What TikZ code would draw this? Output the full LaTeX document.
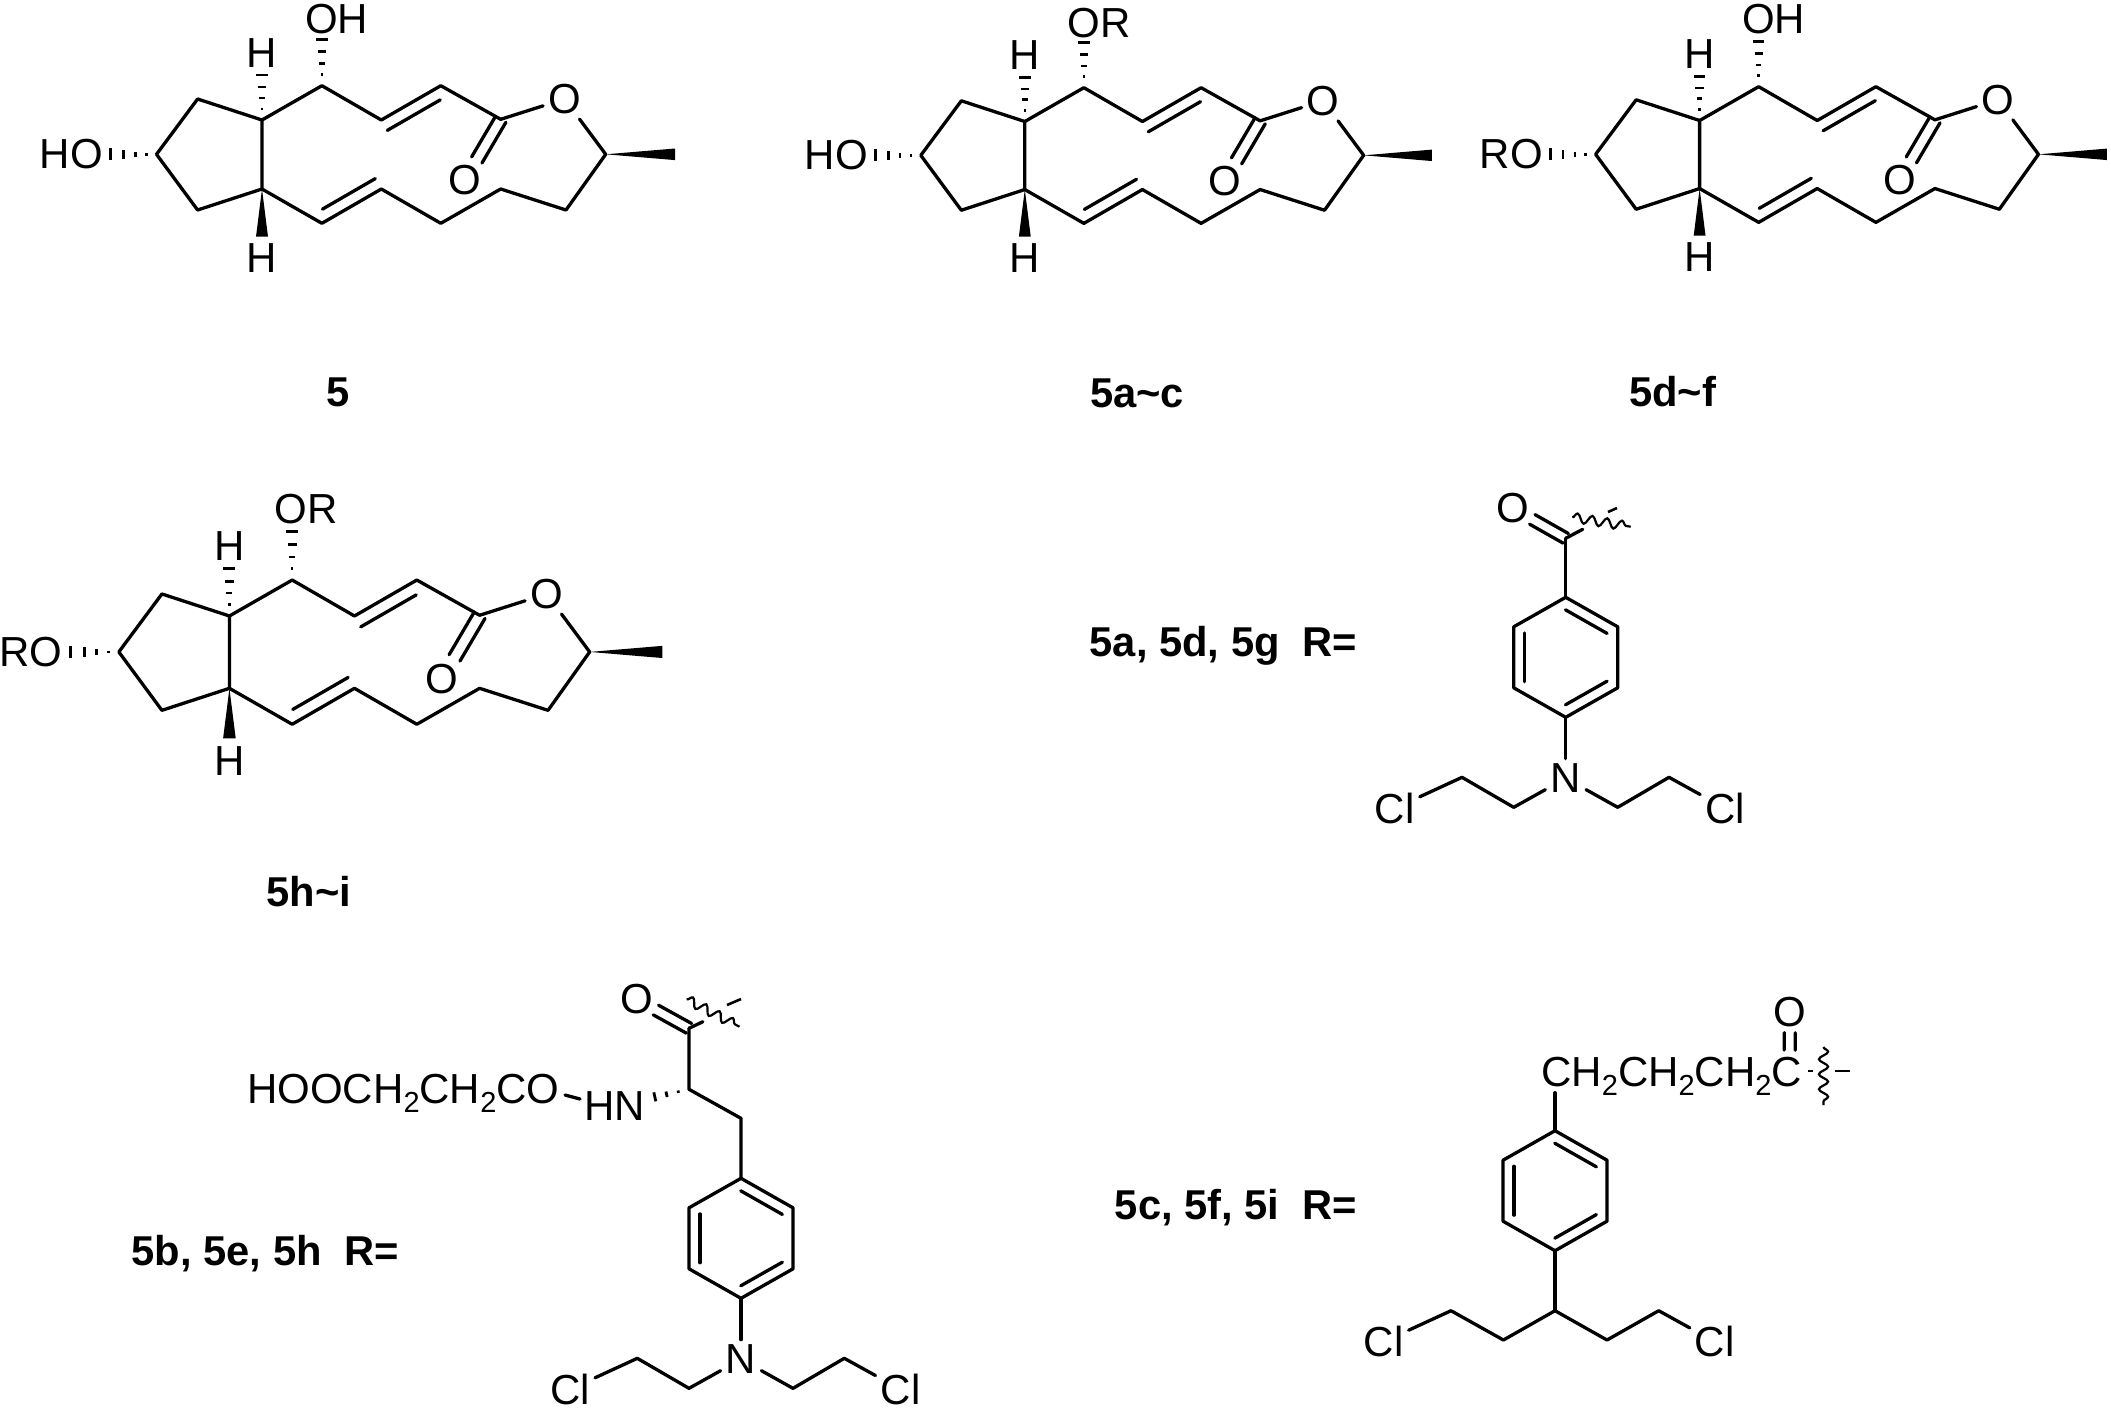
\documentclass[tikz,border=0pt]{standalone}
\usepackage{fontspec}
\setmainfont{Liberation Sans}
\usetikzlibrary{calc,decorations.pathmorphing}
\tikzset{
  bond/.style={line width=3.3pt,line join=round,line cap=round},
  hashline/.style={line width=2.8pt},
  wavy/.style={line width=2.2pt,decorate,decoration={snake,segment length=15pt,amplitude=4.6pt}},
  thinbond/.style={line width=2.6pt},
  atom/.style={inner sep=5pt,font=\fontsize{42}{42}\selectfont},
  chem/.style={inner sep=0pt,font=\fontsize{42}{42}\selectfont},
  cpd/.style={inner sep=0pt,font=\fontsize{41.7}{42}\selectfont\bfseries},
}
\newcommand\subtwo{\raisebox{-9pt}{\fontsize{29}{29}\selectfont 2}}
\newcommand\tld{\textasciitilde}
% hashed bond: #1 atom, #2 direction target, #3 list distance/half-width
\newcommand\hashb[3]{\foreach \hd/\hw in {#3}{%
  \draw[hashline] ($(#1)!\hd pt!(#2)!\hw pt!90:(#2)$) -- ($(#1)!\hd pt!(#2)!\hw pt!-90:(#2)$);}}
% solid wedge: #1 tip, #2 centre of base, #3 half width
\newcommand\wedgeb[3]{\fill (#1) -- ($(#2)!#3!90:(#1)$) -- ($(#2)!#3!-90:(#1)$) -- cycle;}
% inner line of a double bond: #1 a, #2 b, #3 offset, #4 angle, #5 ta, #6 tb
\newcommand\innerb[6]{\draw[bond] ($(#1)!#5!(#2)!#3!#4:(#2)$) -- ($(#2)!#6!(#1)!#3!-#4:(#1)$);}
% straddling double bond: #1 a, #2 b, #3 t start, #4 t end, #5 half spacing
\newcommand\dblb[5]{%
  \draw[bond] ($(#1)!#3!(#2)!#5!90:(#2)$) -- ($(#1)!#4!(#2)!#5!90:(#2)$);
  \draw[bond] ($(#1)!#3!(#2)!#5!-90:(#2)$) -- ($(#1)!#4!(#2)!#5!-90:(#2)$);}
% macrocycle: #1 prefix, #2 shift, #3 scale, #4 top label, #5 top label y, #6 left label
\newcommand\macrocycle[6]{%
\begin{scope}[shift={#2},scale=#3]
  \coordinate (#1a) at (156.5,154.3);
  \coordinate (#1b) at (197.6,99);
  \coordinate (#1c) at (262,120);
  \coordinate (#1d) at (262,189);
  \coordinate (#1e) at (197.6,210);
  \coordinate (#1f) at (321.9,85.7);
  \coordinate (#1g) at (381.3,120);
  \coordinate (#1h) at (440.8,85.7);
  \coordinate (#1i) at (500.7,119.3);
  \coordinate (#1j) at (605.7,154.3);
  \coordinate (#1k) at (566,210);
  \coordinate (#1l) at (500.7,189);
  \coordinate (#1m) at (440.8,223.3);
  \coordinate (#1n) at (381.3,189);
  \coordinate (#1o) at (321.9,223.3);
  \coordinate (#1me) at (675,154.3);
  \coordinate (#1hb) at (262,236.7);
  \coordinate (#1ot) at (321.9,20);
  \node[atom] (#1O) at (564.6,99) {O};
  \node[atom] (#1Oc) at (465,180) {O};
  \node[chem] (#1Ht) at (262,53) {H};
  \node[chem] (#1Hb) at (262,258.5) {H};
  \node[chem,anchor=west] (#1top) at (305,#5) {#4};
  \node[chem,anchor=east] (#1left) at (103,154.3) {#6};
  \draw[bond] (#1a) -- (#1b) -- (#1c) -- (#1d) -- (#1e) -- (#1a);
  \draw[bond] (#1c) -- (#1f) -- (#1g) -- (#1h) -- (#1i) -- (#1O);
  \draw[bond] (#1O) -- (#1j) -- (#1k) -- (#1l) -- (#1m) -- (#1n) -- (#1o) -- (#1d);
  \innerb{#1g}{#1h}{12pt}{-90}{0}{.11}
  \innerb{#1n}{#1o}{12pt}{-90}{0}{.11}
  \dblb{#1i}{#1Oc}{0}{.67}{6pt}
  \wedgeb{#1j}{#1me}{5.8pt}
  \wedgeb{#1d}{#1hb}{6pt}
  \hashb{#1a}{#1left}{10/1.2,21/2.8,33/4.4,46/6}
  \hashb{#1c}{#1Ht}{11/1.2,22/2.8,33/4.2,45/5.8}
  \hashb{#1f}{#1ot}{11/1.2,22/2.8,34/4.2,46/5.8}
\end{scope}}
% para-substituted ring: #1 prefix, #2 centre x, #3 y of top atom
\newcommand\benz[3]{%
\begin{scope}[shift={(#2,#3)}]
  \coordinate (#1t) at (0,0);
  \coordinate (#1ur) at (52,29.5);
  \coordinate (#1lr) at (52,90.5);
  \coordinate (#1b) at (0,120);
  \coordinate (#1ll) at (-52,90.5);
  \coordinate (#1ul) at (-52,29.5);
  \draw[bond] (#1t) -- (#1ur) -- (#1lr) -- (#1b) -- (#1ll) -- (#1ul) -- cycle;
  \innerb{#1t}{#1ur}{11pt}{-90}{.1}{.1}
  \innerb{#1ul}{#1ll}{11pt}{90}{.1}{.1}
  \innerb{#1b}{#1lr}{11pt}{90}{.1}{.1}
\end{scope}}
% nitrogen mustard: #1 prefix, #2 ring-bottom coordinate
\newcommand\mustard[2]{%
\begin{scope}[shift={(#2)}]
  \node[atom] (#1N) at (0,61) {N};
  \coordinate (#1l1) at (-52,90);
  \coordinate (#1l2) at (-103.7,60);
  \node[atom] (#1Cll) at (-171,91) {Cl};
  \coordinate (#1r1) at (52,90);
  \coordinate (#1r2) at (103.3,60);
  \node[atom] (#1Clr) at (159.5,91) {Cl};
  \draw[bond] (#2) -- (#1N);
  \draw[bond] (#1N) -- (#1l1) -- (#1l2) -- (#1Cll);
  \draw[bond] (#1N) -- (#1r1) -- (#1r2) -- (#1Clr);
\end{scope}}
\begin{document}
\begin{tikzpicture}[x=1pt,y=-1pt]
\useasboundingbox (0,0) rectangle (2111,1409);
% macrocycles
\macrocycle{ma-}{(0,0)}{1}{OH}{19}{HO}
\macrocycle{mb-}{(766.5,3.2)}{.986}{OR}{20.4}{HO}
\macrocycle{mc-}{(1441.3,2.2)}{.986}{OH}{17.3}{RO}
\macrocycle{md-}{(-45.2,490.2)}{1.048}{OR}{18.2}{RO}
\node[cpd] (la) at (338,392) {5};
\node[cpd] (lb) at (1137,393) {5a\tld c};
\node[cpd] (lc) at (1672.5,392) {5d\tld f};
\node[cpd] (ld) at (309,892) {5h\tld i};
\node[cpd] (le) at (1223.5,646) {5a, 5d, 5g\hspace{.556em}R=};
\node[cpd] (lf) at (265.5,1254) {5b, 5e, 5h\hspace{.556em}R=};
\node[cpd] (lg) at (1236,1208) {5c, 5f, 5i\hspace{.556em}R=};
% R group 1
\benz{ra-}{1565.7}{597.3}
\mustard{rm-}{ra-b}
\node[atom] (raO) at (1512.7,508.3) {O};
\coordinate (raC) at (1565.7,538.3);
\coordinate (raS) at (1582.7,529.3);
\coordinate (raW1) at (1572.3,517.3);
\coordinate (raW2) at (1630.7,526.7);
\coordinate (raD1) at (1608,512);
\coordinate (raD2) at (1617,508);
\draw[bond] (raC) -- (ra-t);
\draw[bond] (raC) -- (raS);
\dblb{raC}{raO}{0}{.63}{5.5pt}
\draw[wavy] (raW1) -- (raW2);
\draw[thinbond] (raD1) -- (raD2);
% R group 2
\benz{rb-}{741}{1178.3}
\mustard{rn-}{rb-b}
\node[atom] (rbO) at (636.5,999.3) {O};
\coordinate (rbC) at (689,1028.3);
\coordinate (rbS) at (702.8,1021.7);
\coordinate (rbW1) at (686.7,999.3);
\coordinate (rbW2) at (739.5,1026.7);
\coordinate (rbD1) at (727,1005);
\coordinate (rbD2) at (741,999);
\coordinate (rbH) at (689,1089.3);
\coordinate (rbM) at (741,1118.3);
\node[chem,anchor=base west] (rbch) at (247,1103.3) {HOOCH\subtwo CH\subtwo CO};
\node[chem] (rbN) at (614.5,1105.7) {HN};
\coordinate (rbE1) at (565,1095);
\coordinate (rbE2) at (580,1099);
\draw[bond] (rbC) -- (rbH) -- (rbM) -- (rb-t);
\draw[bond] (rbC) -- (rbS);
\draw[bond] (rbE1) -- (rbE2);
\dblb{rbC}{rbO}{0}{.63}{5.5pt}
\draw[wavy] (rbW1) -- (rbW2);
\draw[thinbond] (rbD1) -- (rbD2);
\hashb{rbH}{rbN}{11/1.2,23/2.8,35/4.6}
% R group 3
\benz{rc-}{1555}{1130.7}
\node[chem,anchor=base west] (rcch) at (1541,1086.4) {CH\subtwo CH\subtwo CH\subtwo C};
\coordinate (rcT) at (1555,1092.7);
\coordinate (rcC) at (1789.5,1071.7);
\node[atom] (rcO) at (1790,1011.7) {O};
\coordinate (rcH) at (1555,1310.7);
\coordinate (rcl1) at (1503.4,1340);
\coordinate (rcl2) at (1451,1310.7);
\node[atom] (rcCll) at (1383.6,1341.7) {Cl};
\coordinate (rcr1) at (1607,1340);
\coordinate (rcr2) at (1658.7,1310.7);
\node[atom] (rcClr) at (1714.8,1341.7) {Cl};
\coordinate (rcW1) at (1823.5,1047);
\coordinate (rcW2) at (1823.5,1105);
\coordinate (rcA1) at (1808,1071);
\coordinate (rcA2) at (1813,1071);
\coordinate (rcB1) at (1835,1071);
\coordinate (rcB2) at (1850,1071);
\draw[bond] (rcT) -- (rc-t);
\draw[bond] (rc-b) -- (rcH);
\draw[bond] (rcCll) -- (rcl2) -- (rcl1) -- (rcH) -- (rcr1) -- (rcr2) -- (rcClr);
\dblb{rcC}{rcO}{.36}{.65}{5.5pt}
\draw[wavy] (rcW1) -- (rcW2);
\draw[thinbond] (rcA1) -- (rcA2);
\draw[thinbond] (rcB1) -- (rcB2);
\end{tikzpicture}
\end{document}
